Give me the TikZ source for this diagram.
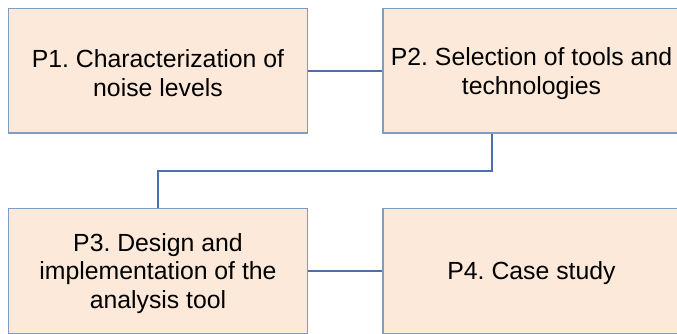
\documentclass[tikz,border=0pt]{standalone}
\usepackage{fontspec}
\setmainfont{Liberation Sans}
\frenchspacing
\definecolor{boxfill}{HTML}{FDE9D9}
\definecolor{boxline}{HTML}{7F9CC4}
\definecolor{conn}{HTML}{4A72A8}
\begin{document}
\begin{tikzpicture}[x=1pt,y=-1pt,
  pbox/.style={draw=boxline,line width=1.3pt,fill=boxfill,minimum width=299pt,minimum height=124.5pt,inner sep=0pt},
  ptext/.style={inner sep=0pt,align=center,font=\fontsize{24.8}{28.7}\selectfont,text=black,yshift=-2.5pt},
  link/.style={draw=conn,line width=2pt}]
\useasboundingbox (0,0) rectangle (677,333);
\clip (0,0) rectangle (677,333);
\node[pbox] (p1) at (158,70.75) {};
\node[pbox] (p2) at (532.5,70.75) {};
\node[pbox] (p3) at (158,271) {};
\node[pbox] (p4) at (532.5,271) {};
\node[ptext] (t1) at (p1.center) {P1. Characterization of\\noise levels};
\node[ptext] (t2) at ([xshift=-1pt]p2.center) {P2. Selection of tools and\\technologies};
\node[ptext] (t3) at (p3.center) {P3. Design and\\implementation of the\\analysis tool};
\node[ptext] (t4) at ([xshift=-1pt]p4.center) {P4. Case study};
\coordinate (b1) at (492,171);
\coordinate (b2) at (158,171);
\draw[link] (p1.east) -- (p2.west);
\draw[link] (p2.south -| b1) -- (b1) -- (b2) -- (p3.north);
\draw[link] (p3.east) -- (p4.west);
\end{tikzpicture}
\end{document}
